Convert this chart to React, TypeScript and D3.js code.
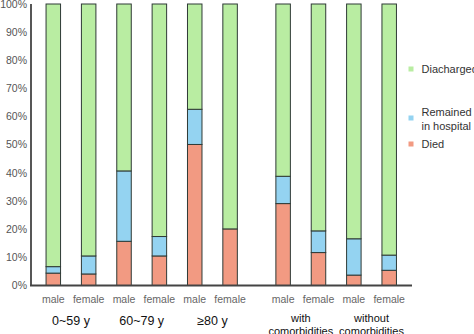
import React from "react";
import * as d3 from "d3";

const categories = ["male", "female", "male", "female", "male", "female", "male", "female", "male", "female"];
const groups = [["0~59 y"], ["60~79 y"], ["≥80 y"], ["with", "comorbidities"], ["without", "comorbidities"]];
const died = [4.4, 4.1, 15.7, 10.5, 50.1, 20.1, 29.1, 11.7, 3.7, 5.4];
const remained = [2.3, 6.4, 25.0, 6.9, 12.5, 0, 9.7, 7.7, 12.9, 5.4];
const discharged = [93.3, 89.5, 59.3, 82.6, 37.4, 79.9, 61.2, 80.6, 83.4, 89.2];
const yTicks = [0, 10, 20, 30, 40, 50, 60, 70, 80, 90, 100];
const seriesNames = ["Died", "Remained in hospital", "Diacharged"];

const COLORS = ["#f29a82", "#94d3f1", "#b9eda2"];

export default function App() {
  const W = 474, H = 334;
  const y = d3.scaleLinear().domain([0, 100]).range([285.5, 4]);
  const slot = (i: number) => i + (i >= 6 ? 0.5 : 0);
  const x = d3.scaleLinear().domain([0, 9.5]).range([53.3, 389.2]);
  const bw = 14.5;
  const font = "Liberation Sans, Arial, sans-serif";

  const rows = categories.map((c, i) => ({ c, died: died[i], remained: remained[i], discharged: discharged[i] }));
  const stack = d3.stack<any>().keys(["died", "remained", "discharged"])(rows);

  const legendY = [[69], [112, 126], [144]];
  const legendSq = [69, 118, 144];
  const legendOrder = [2, 1, 0];
  const legendLines = [["Died"], ["Remained", "in hospital"], ["Diacharged"]];

  return (
    <svg width={W} height={H} style={{ position: "absolute", left: 0, top: 0, background: "#fff" }} fontFamily={font}>
      {stack.map((s, si) =>
        s.map((d, i) => {
          const h = y(d[0]) - y(d[1]);
          if (h <= 0.01) return null;
          return (
            <rect key={`${si}-${i}`} x={x(slot(i)) - bw / 2} y={y(d[1])} width={bw} height={h}
              fill={COLORS[si]} stroke="#2f3a36" strokeWidth={1} />
          );
        })
      )}
      {/* axes */}
      <line x1={31} x2={31} y1={y(100)} y2={y(0) + 0.5} stroke="#444" strokeWidth={1.8} />
      <line x1={30} x2={412} y1={y(0)} y2={y(0)} stroke="#444" strokeWidth={1.8} />
      {yTicks.map((t) => (
        <text key={t} x={27} y={y(t)} dy="0.35em" textAnchor="end" fontSize={10.5} fill="#555">{t}%</text>
      ))}
      {categories.map((c, i) => (
        <text key={i} x={x(slot(i))} y={299} dy="0.35em" textAnchor="middle" fontSize={10.5} fill="#666">{c}</text>
      ))}
      {groups.map((g, gi) => {
        const cx = (x(slot(gi * 2)) + x(slot(gi * 2 + 1))) / 2;
        if (g.length === 1)
          return <text key={gi} x={cx} y={321} dy="0.35em" textAnchor="middle" fontSize={12.5} fill="#111">{g[0]}</text>;
        return (
          <g key={gi}>
            {g.map((l, li) => (
              <text key={li} x={cx} y={318 + li * 13} dy="0.35em" textAnchor="middle" fontSize={11} fill="#111">{l}</text>
            ))}
          </g>
        );
      })}
      {legendOrder.map((si) => (
        <g key={si}>
          <rect x={408.5} y={legendSq[2 - si] - 2.5} width={5} height={5} fill={COLORS[si]} />
          {legendLines[si].map((l, li) => (
            <text key={li} x={421.5} y={legendY[2 - si][li]} dy="0.35em" fontSize={11} fill="#333">{l}</text>
          ))}
        </g>
      ))}
    </svg>
  );
}
